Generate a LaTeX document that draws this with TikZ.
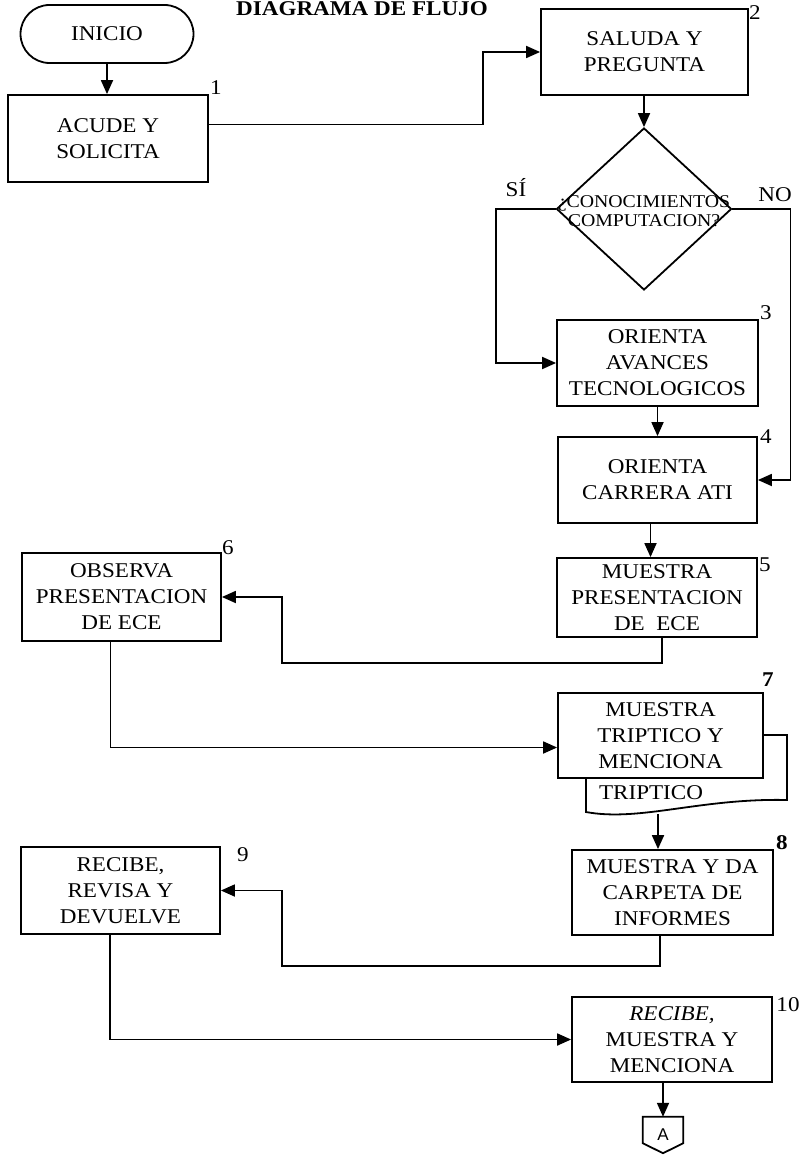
\documentclass[tikz,border=0pt]{standalone}
\usepackage{fontspec}
\setmainfont{Liberation Serif}[FakeStretch=1.1]
\newfontfamily\sansA{Liberation Sans}
\usetikzlibrary{arrows.meta,calc,shapes.geometric}
\begin{document}
\begin{tikzpicture}[x=1pt,y=-1pt,
  ln/.style={line width=1.8pt},
  arr/.style={ln,-{Triangle[length=14pt,width=12pt]}},
  proc/.style={draw,ln,fill=white,align=center,inner sep=0pt,font=\fontsize{21}{26}\selectfont},
  num/.style={inner sep=0pt,font=\fontsize{21}{21}\selectfont},
  lab/.style={inner sep=0pt,font=\fontsize{21}{21}\selectfont},
]
\useasboundingbox (0,0) rectangle (805,1155);

% title
\node[anchor=base,inner sep=0pt,font=\bfseries\fontsize{21}{21}\selectfont] (title) at (362,16) {DIAGRAMA DE FLUJO};

% terminal
\node[draw,ln,rounded corners=29pt,minimum width=173pt,minimum height=58pt,inner sep=0pt,font=\fontsize{21}{26}\selectfont] (ini) at (107,34) {INICIO};

% process boxes
\node[proc,minimum width=200pt,minimum height=87pt] (b1) at (108,138.5) {ACUDE Y\\SOLICITA};
\node[proc,minimum width=207pt,minimum height=86pt] (b2) at (644.5,52) {SALUDA Y\\PREGUNTA};

\node[draw,ln,diamond,minimum width=175pt,minimum height=162pt,inner sep=0pt] (d) at (644,209) {};
\node[align=center,inner sep=0pt,font=\fontsize{18}{19}\selectfont] (dt) at (644,211) {¿CONOCIMIENTOS\\COMPUTACION?};

\node[proc,minimum width=201pt,minimum height=86pt] (b3) at (657.5,363) {ORIENTA\\AVANCES\\TECNOLOGICOS};
\node[proc,minimum width=199pt,minimum height=86pt] (b4) at (657.5,480) {ORIENTA\\CARRERA ATI};
\node[proc,minimum width=200pt,minimum height=79pt] (b5) at (657,597.5) {MUESTRA\\PRESENTACION\\DE\ \ ECE};
\node[proc,minimum width=199pt,minimum height=88pt] (b6) at (121.5,597) {OBSERVA\\PRESENTACION\\DE ECE};

% document (back page) of step 7
\draw[ln,fill=white] (763,735) -- (787,735) -- (787,800)
  .. controls (700,798) and (640,822) .. (586,812) -- (586,770);
\coordinate (b7bot) at (658,814);
\node[inner sep=0pt,font=\fontsize{21}{26}\selectfont] (trip) at (651,793) {TRIPTICO};
\node[proc,minimum width=205pt,minimum height=85pt] (b7) at (660.5,735.5) {MUESTRA\\TRIPTICO Y\\MENCIONA};

\node[proc,minimum width=201pt,minimum height=85pt] (b8) at (672.5,892.5) {MUESTRA Y DA\\CARPETA DE\\INFORMES};
\node[proc,minimum width=199pt,minimum height=87pt] (b9) at (120.5,890.5) {RECIBE,\\REVISA Y\\DEVUELVE};
\node[proc,minimum width=200pt,minimum height=85pt] (b10) at (672,1039.5) {\itshape RECIBE,\\MUESTRA Y\\MENCIONA};

% off-page connector
\node[minimum width=40pt,minimum height=36pt,inner sep=0pt,font=\sansA\fontsize{17}{17}\selectfont] (A) at (663,1135) {A};
\draw[ln] (A.north west) -- (A.north east) -- ([yshift=10pt]A.south east) -- (A.south) -- ([yshift=10pt]A.south west) -- cycle;

% step numbers
\node[num] (n1) at (216,88) {1};
\node[num] (n2) at (755,13) {2};
\node[num] (n3) at (766,313) {3};
\node[num] (n4) at (766,437) {4};
\node[num] (n5) at (765,565) {5};
\node[num] (n6) at (228,548) {6};
\node[num,font=\bfseries\fontsize{21}{21}\selectfont] (n7) at (768,680) {7};
\node[num,font=\bfseries\fontsize{21}{21}\selectfont] (n8) at (782,843) {8};
\node[num] (n9) at (243,855) {9};
\node[num] (n10) at (788,1005) {10};

% branch labels
\node[lab] (si) at (516,188) {SÍ};
\node[lab] (no) at (775,195) {NO};

% connectors
\draw[arr] (ini.south) -- (ini.south |- b1.north);
\draw[arr] ([yshift=14pt]b1.east) -- ++(274,0) |- (b2.west);
\draw[arr] (b2.south -| d.north) -- (d.north);
\draw[arr] (d.west) -- ++(-60,0) |- (b3.west);
\draw[arr] (d.east) -- ++(58,0) |- (b4.east);
\draw[arr] (b3.south) -- (b3.south |- b4.north);
\draw[arr] ([xshift=-7pt]b4.south) -- ([xshift=-7pt]b4.south |- b5.north);
\draw[arr] ([xshift=5pt]b5.south) -- ++(0,25) -- ++(-380,0) |- (b6.east);
\draw[arr] ([xshift=-11pt]b6.south) |- ([yshift=-12pt]b7.west);
\draw[arr] (b7bot) -- (b7bot |- b8.north);
\draw[arr] ([xshift=-12.5pt]b8.south) -- ++(0,30) -- ++(-378,0) |- (b9.east);
\draw[arr] ([xshift=-10.5pt]b9.south) |- (b10.west);
\draw[arr] (b10.south -| A.north) -- (A.north);
\end{tikzpicture}
\end{document}
